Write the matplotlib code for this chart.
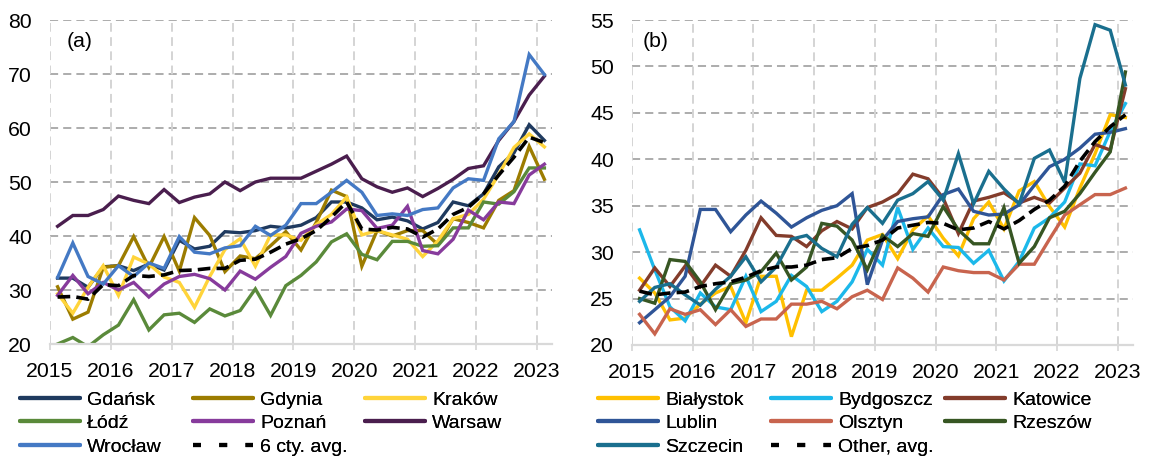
import numpy as np
import pandas as pd
import matplotlib
matplotlib.use('Agg')
import matplotlib.pyplot as plt
from matplotlib.lines import Line2D

plt.rcParams['font.family'] = ['Liberation Sans', 'DejaVu Sans']

# --- Quarterly series, 2015Q1 - 2023Q1 ---
QUARTERS = pd.period_range('2015Q1', '2023Q1', freq='Q')

# panel (a): six largest cities
gdansk = [32.2, 32.2, 30.5, 34.3, 34.5, 33.6, 34.8, 33.7, 39.2, 37.6, 38.1, 40.8, 40.6,
          41.0, 41.8, 41.5, 42.0, 43.4, 46.3, 46.3, 45.2, 43.0, 43.5, 42.8, 41.3, 42.5,
          46.3, 45.6, 47.8, 52.8, 55.4, 60.6, 57.7]
gdynia = [30.6, 24.6, 25.9, 34.2, 34.5, 39.9, 34.2, 39.9, 33.5, 43.4, 40.1, 33.4, 36.3,
          35.8, 38.2, 40.8, 37.4, 42.5, 48.5, 47.3, 34.4, 41.0, 40.0, 41.0, 41.0, 38.4,
          43.2, 42.5, 41.5, 46.6, 48.4, 56.6, 50.5]
krakow = [29.3, 25.7, 30.5, 34.5, 29.0, 36.1, 34.8, 32.4, 31.4, 26.8, 32.5, 37.5, 39.5,
          34.4, 40.2, 40.2, 39.2, 42.1, 44.0, 47.2, 40.2, 41.0, 40.2, 39.4, 36.2, 39.1,
          43.2, 44.0, 46.8, 51.4, 56.4, 58.9, 56.5]
lodz = [20.0, 21.2, 19.5, 21.7, 23.5, 28.2, 22.6, 25.4, 25.7, 24.0, 26.5, 25.2, 26.2,
        30.2, 25.3, 30.8, 32.7, 35.2, 38.9, 40.4, 36.6, 35.6, 39.0, 39.0, 38.1, 38.2,
        41.5, 41.5, 46.3, 45.9, 48.2, 52.6, 52.6]
poznan = [29.0, 32.7, 29.3, 31.4, 30.0, 31.4, 28.7, 31.1, 32.5, 32.9, 32.1, 30.0, 33.5,
          32.0, 34.2, 36.2, 40.5, 41.8, 42.6, 45.0, 44.7, 41.4, 42.0, 45.5, 37.3, 36.7,
          39.4, 44.8, 43.0, 46.3, 46.0, 51.3, 53.3]
warsaw = [41.8, 43.8, 43.8, 44.9, 47.4, 46.6, 46.0, 48.6, 46.2, 47.2, 47.8, 50.0, 48.4,
          50.0, 50.7, 50.7, 50.7, 52.0, 53.3, 54.8, 50.6, 49.1, 48.1, 48.9, 47.3, 48.8,
          50.5, 52.5, 53.0, 57.7, 61.2, 66.1, 69.6]
wroclaw = [32.3, 38.7, 32.5, 31.1, 34.5, 32.5, 35.0, 34.0, 39.9, 37.0, 36.7, 37.8, 38.2,
           41.8, 40.1, 42.0, 46.0, 46.0, 48.1, 50.3, 48.1, 43.8, 44.1, 43.8, 44.9, 45.2,
           48.9, 50.6, 50.3, 58.0, 61.2, 73.6, 69.9]
avg6 = [28.7, 28.8, 28.3, 31.0, 30.8, 32.7, 32.5, 32.8, 33.6, 33.7, 34.0, 34.0, 35.5,
        35.7, 37.0, 38.5, 39.5, 41.0, 43.5, 46.3, 41.3, 41.1, 41.6, 41.3, 39.8, 41.3,
        44.0, 45.3, 47.8, 51.3, 54.6, 58.3, 57.3]

# panel (b): other cities
bialystok = [27.2, 25.6, 22.7, 22.9, 24.4, 25.6, 26.3, 22.4, 27.4, 27.4, 20.9, 25.9, 25.9,
             27.2, 28.6, 31.3, 31.9, 29.3, 32.4, 33.9, 31.5, 29.6, 33.6, 35.4, 32.5, 36.6,
             37.6, 34.9, 32.7, 36.9, 40.6, 44.8, 44.5]
bydgoszcz = [32.4, 28.1, 24.1, 22.6, 25.6, 24.1, 23.8, 27.4, 23.6, 24.7, 27.5, 26.3, 23.6,
             24.7, 26.8, 30.3, 28.6, 34.8, 30.3, 32.6, 30.6, 30.5, 28.8, 30.2, 26.9, 29.0,
             32.6, 33.7, 35.4, 39.5, 39.3, 43.0, 46.0]
katowice = [25.9, 28.3, 26.3, 28.5, 26.3, 28.6, 27.4, 30.2, 33.7, 31.8, 31.7, 30.6, 32.3,
            33.3, 32.5, 34.8, 35.4, 36.3, 38.4, 37.9, 35.8, 32.0, 35.5, 35.9, 36.4, 35.3,
            35.9, 35.3, 36.9, 38.5, 41.6, 41.0, 47.6]
lublin = [22.4, 23.8, 25.2, 27.4, 34.6, 34.6, 32.2, 34.0, 35.5, 34.2, 32.7, 33.7, 34.5,
          35.0, 36.3, 26.5, 31.3, 33.3, 33.6, 33.8, 36.2, 36.8, 34.4, 34.0, 34.1, 35.1,
          37.2, 39.2, 40.0, 41.2, 42.7, 42.9, 43.3]
olsztyn = [23.3, 21.2, 23.9, 23.3, 23.8, 22.2, 23.8, 22.0, 22.8, 22.8, 24.4, 24.4, 24.7,
           23.9, 25.2, 25.9, 24.9, 28.3, 27.2, 25.7, 28.4, 28.0, 27.8, 27.8, 27.0, 28.7,
           28.7, 31.4, 34.0, 35.1, 36.2, 36.2, 36.9]
rzeszow = [25.0, 24.5, 29.2, 29.0, 26.8, 23.8, 26.6, 27.0, 27.9, 29.9, 27.0, 28.4, 33.1,
           32.8, 31.3, 28.1, 31.8, 30.6, 32.0, 31.7, 34.9, 32.4, 30.9, 30.9, 34.8, 28.8,
           30.6, 33.7, 34.4, 36.3, 38.6, 40.8, 49.4]
szczecin = [24.7, 26.2, 26.6, 25.4, 24.3, 26.0, 27.4, 29.5, 26.8, 28.4, 31.4, 31.8, 30.4,
            29.5, 33.0, 34.8, 33.1, 35.6, 36.3, 37.6, 35.6, 40.6, 35.2, 38.7, 36.8, 35.2,
            40.1, 41.0, 37.5, 48.7, 54.5, 53.9, 48.0]
avg_other = [25.8, 25.4, 25.6, 25.7, 26.3, 26.6, 26.8, 27.3, 28.0, 28.4, 28.4, 28.6, 29.2,
             29.4, 30.4, 30.7, 31.3, 32.6, 32.9, 33.2, 33.1, 32.4, 32.6, 33.3, 32.5, 33.4,
             34.6, 35.6, 37.1, 39.8, 41.9, 43.5, 44.8]

YEARS = list(range(2015, 2024))

series_a = [
    ('Gdańsk', gdansk, '#1f3a5f'),
    ('Gdynia', gdynia, '#9c7c00'),
    ('Kraków', krakow, '#ffd43a'),
    ('Łódź', lodz, '#5a8a3a'),
    ('Poznań', poznan, '#873b9c'),
    ('Warsaw', warsaw, '#4a1e4e'),
    ('Wrocław', wroclaw, '#4479c4'),
    ('6 cty. avg.', avg6, 'black'),
]
series_b = [
    ('Białystok', bialystok, '#ffc000'),
    ('Bydgoszcz', bydgoszcz, '#1cb8ea'),
    ('Katowice', katowice, '#833c2b'),
    ('Lublin', lublin, '#2f5597'),
    ('Olsztyn', olsztyn, '#c8644e'),
    ('Rzeszów', rzeszow, '#375623'),
    ('Szczecin', szczecin, '#1a6f8e'),
    ('Other, avg.', avg_other, 'black'),
]

TICK_FS = 15.3
LEG_FS = 14
x = np.array([q.year + (q.quarter - 0.5) / 4 for q in QUARTERS])

fig = plt.figure(figsize=(11.57, 4.57), dpi=100)
W, H = 1157, 457


def px_box(l, r, t, b):
    return [l / W, 1 - b / H, (r - l) / W, (b - t) / H]


def draw_panel(ax, series, yticks, tag, tag_x):
    for name, vals, col in series:
        if col == 'black':
            ax.plot(x, vals, color=col, lw=2.6, dashes=(3.5, 1.7), zorder=3)
        else:
            ax.plot(x, vals, color=col, lw=2.4, zorder=2, solid_joinstyle='miter')
    ax.set_xlim(2015, 2023.25)
    ax.set_ylim(yticks[0], yticks[-1])
    ax.set_xticks(YEARS)
    ax.set_yticks(yticks)
    ax.tick_params(axis='x', length=4, width=1.3, color='#d9d9d9', pad=9, labelsize=TICK_FS)
    ax.tick_params(axis='y', length=0, pad=13, labelsize=TICK_FS)
    for s in ['top', 'right', 'left']:
        ax.spines[s].set_visible(False)
    ax.spines['bottom'].set_color('#d9d9d9')
    ax.spines['bottom'].set_linewidth(1.6)
    for yv in yticks[1:]:
        ax.axhline(yv, color='#a6a6a6', lw=1.3, ls=(0, (4.5, 2.8)), zorder=0)
    for xv in YEARS:
        ax.axvline(xv, color='#d4d4d4', lw=1.4, ls=(0, (4.5, 2.8)), zorder=0)
    ax.text(tag_x, 0.935, tag, transform=ax.transAxes, fontsize=TICK_FS, ha='left', va='center')


ax_a = fig.add_axes(px_box(50, 552, 20, 344))
ax_b = fig.add_axes(px_box(632, 1133, 20, 345))
draw_panel(ax_a, series_a, list(range(20, 81, 10)), '(a)', 0.034)
draw_panel(ax_b, series_b, list(range(20, 56, 5)), '(b)', 0.022)


def handle(col):
    if col == 'black':
        return Line2D([], [], color=col, lw=3, dashes=(1.9, 4.4))
    return Line2D([], [], color=col, lw=3, solid_capstyle='round')


def legend_columns(series, col_x):
    # entries run row-wise across three columns
    for c, xpx in enumerate(col_x):
        items = series[c::3]
        leg = fig.legend([handle(col) for _, _, col in items],
                         [name for name, _, _ in items],
                         loc='upper left', bbox_to_anchor=(xpx / W, 1 - 391 / H),
                         frameon=False, fontsize=LEG_FS, borderpad=0, borderaxespad=0,
                         handlelength=3.1, handletextpad=0.35, labelspacing=0.3)
        fig.add_artist(leg)


legend_columns(series_a, [20, 193, 365])
legend_columns(series_b, [598, 771, 945])

fig.savefig('out.png', dpi=100)
